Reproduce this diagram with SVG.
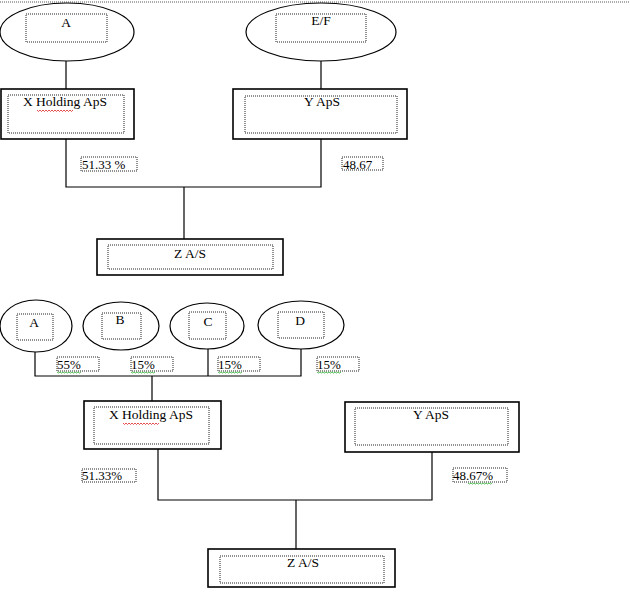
<svg xmlns="http://www.w3.org/2000/svg" width="630" height="600" viewBox="0 0 630 600">
<style>
.bg{fill:#fff}
.ell{fill:#fff;stroke:#000;stroke-width:1.2}
.box{fill:#fff;stroke:#000;stroke-width:1.6}
.inner{fill:none;stroke:#222;stroke-width:1;stroke-dasharray:1 1}
.lbl{fill:#fff;stroke:#222;stroke-width:1;stroke-dasharray:1 1}
.t{font-family:"Liberation Serif","Times New Roman",serif;font-size:13.5px;fill:#000}
.tm{text-anchor:middle}
.p{font-family:"Liberation Serif","Times New Roman",serif;font-size:13px;fill:#000}
.con{fill:none;stroke:#000;stroke-width:1.2}
.spell{fill:none;stroke:#d22;stroke-width:0.8}
.gram{fill:none;stroke:#2a2;stroke-width:0.8}
</style>
<rect class="bg" x="0" y="0" width="630" height="600"/>
<line x1="0" y1="2" x2="630" y2="2" stroke="#555" stroke-width="1" stroke-dasharray="1 1"/>

<g id="connectors">
  <path class="con" d="M66 61 V89 M321 61 V89 M66 139 V187 H321 V139 M184 187 V239"/>
  <path class="con" d="M35 352 V376 H301 V348 M152 376 V401 M158 449 V500 H432 V452 M296 500 V549"/>
  <path class="con" d="M208 348 V376" stroke="#aaa"/>
</g>

<g id="top-A">
  <ellipse class="ell" cx="67" cy="32" rx="67" ry="29"/>
  <rect class="inner" x="26" y="14" width="81" height="28"/>
  <text class="t tm" x="66" y="27">A</text>
</g>
<g id="top-EF">
  <ellipse class="ell" cx="321" cy="32" rx="75" ry="29"/>
  <rect class="inner" x="276" y="14" width="90" height="28"/>
  <text class="t tm" x="321" y="25">E/F</text>
</g>
<g id="top-X">
  <rect class="box" x="1" y="89" width="133" height="50"/>
  <rect class="inner" x="8" y="95" width="116" height="38"/>
  <text class="t tm" x="65" y="106">X Holding ApS</text>
  <path class="spell" d="M37 110 l1.5 1.5 1.5 -1.5 1.5 1.5 1.5 -1.5 1.5 1.5 1.5 -1.5 1.5 1.5 1.5 -1.5 1.5 1.5 1.5 -1.5 1.5 1.5 1.5 -1.5 1.5 1.5 1.5 -1.5 1.5 1.5 1.5 -1.5 1.5 1.5 1.5 -1.5 1.5 1.5 1.5 -1.5 1.5 1.5 1.5 -1.5 1.5 1.5 1.5 -1.5"/>
</g>
<g id="top-Y">
  <rect class="box" x="233" y="89" width="174" height="50"/>
  <rect class="inner" x="245" y="96" width="152" height="37"/>
  <text class="t tm" x="322" y="106">Y ApS</text>
</g>
<g id="top-p1">
  <rect class="lbl" x="81" y="157" width="56" height="14"/>
  <text class="p" x="82" y="169">51.33 %</text>
</g>
<g id="top-p2">
  <rect class="lbl" x="342" y="157" width="41" height="13"/>
  <text class="p" x="343" y="169">48.67</text>
</g>
<g id="top-Z">
  <rect class="box" x="97" y="239" width="186" height="36"/>
  <rect class="inner" x="108" y="245" width="165" height="24"/>
  <text class="t tm" x="190" y="258">Z A/S</text>
</g>

<g id="bot-A">
  <ellipse class="ell" cx="36" cy="326" rx="36" ry="26"/>
  <rect class="inner" x="17" y="314" width="36" height="26"/>
  <text class="t tm" x="34" y="327">A</text>
</g>
<g id="bot-B">
  <ellipse class="ell" cx="121" cy="326" rx="38" ry="24"/>
  <rect class="inner" x="102" y="313" width="39" height="26"/>
  <text class="t tm" x="120" y="324">B</text>
</g>
<g id="bot-C">
  <ellipse class="ell" cx="207" cy="326" rx="37" ry="23"/>
  <rect class="inner" x="189" y="312" width="37" height="27"/>
  <text class="t tm" x="208" y="326">C</text>
</g>
<g id="bot-D">
  <ellipse class="ell" cx="301" cy="325" rx="43" ry="24"/>
  <rect class="inner" x="278" y="312" width="46" height="26"/>
  <text class="t tm" x="300" y="325">D</text>
</g>
<g id="bot-p55">
  <rect class="lbl" x="57" y="357" width="42" height="14"/>
  <text class="p" x="57" y="369">55%</text>
  <path class="gram" d="M57 372 l1.5 1 1.5 -1 1.5 1 1.5 -1 1.5 1 1.5 -1 1.5 1 1.5 -1 1.5 1 1.5 -1 1.5 1 1.5 -1 1.5 1 1.5 -1 1.5 1 1.5 -1"/>
</g>
<g id="bot-p15b">
  <rect class="lbl" x="131" y="357" width="42" height="14"/>
  <text class="p" x="131" y="369">15%</text>
  <path class="gram" d="M131 372 l1.5 1 1.5 -1 1.5 1 1.5 -1 1.5 1 1.5 -1 1.5 1 1.5 -1 1.5 1 1.5 -1 1.5 1 1.5 -1 1.5 1 1.5 -1 1.5 1 1.5 -1"/>
</g>
<g id="bot-p15c">
  <rect class="lbl" x="218" y="357" width="42" height="14"/>
  <text class="p" x="218" y="369">15%</text>
  <path class="gram" d="M218 372 l1.5 1 1.5 -1 1.5 1 1.5 -1 1.5 1 1.5 -1 1.5 1 1.5 -1 1.5 1 1.5 -1 1.5 1 1.5 -1 1.5 1 1.5 -1 1.5 1 1.5 -1"/>
</g>
<g id="bot-p15d">
  <rect class="lbl" x="317" y="357" width="42" height="14"/>
  <text class="p" x="317" y="369">15%</text>
  <path class="gram" d="M317 372 l1.5 1 1.5 -1 1.5 1 1.5 -1 1.5 1 1.5 -1 1.5 1 1.5 -1 1.5 1 1.5 -1 1.5 1 1.5 -1 1.5 1 1.5 -1 1.5 1 1.5 -1"/>
</g>
<g id="bot-X">
  <rect class="box" x="84" y="401" width="137" height="48"/>
  <rect class="inner" x="94" y="407" width="115" height="37"/>
  <text class="t tm" x="151" y="419">X Holding ApS</text>
  <path class="spell" d="M123 423 l1.5 1.5 1.5 -1.5 1.5 1.5 1.5 -1.5 1.5 1.5 1.5 -1.5 1.5 1.5 1.5 -1.5 1.5 1.5 1.5 -1.5 1.5 1.5 1.5 -1.5 1.5 1.5 1.5 -1.5 1.5 1.5 1.5 -1.5 1.5 1.5 1.5 -1.5 1.5 1.5 1.5 -1.5 1.5 1.5 1.5 -1.5 1.5 1.5 1.5 -1.5"/>
</g>
<g id="bot-Y">
  <rect class="box" x="345" y="402" width="174" height="50"/>
  <rect class="inner" x="355" y="408" width="153" height="37"/>
  <text class="t tm" x="431" y="419">Y ApS</text>
</g>
<g id="bot-p1">
  <rect class="lbl" x="82" y="469" width="54" height="13"/>
  <text class="p" x="82" y="480">51.33%</text>
</g>
<g id="bot-p2">
  <rect class="lbl" x="453" y="468" width="54" height="14"/>
  <text class="p" x="453" y="480">48.67%</text>
  <path class="gram" d="M468 483 l1.5 1 1.5 -1 1.5 1 1.5 -1 1.5 1 1.5 -1 1.5 1 1.5 -1 1.5 1 1.5 -1 1.5 1 1.5 -1 1.5 1 1.5 -1 1.5 1 1.5 -1"/>
</g>
<g id="bot-Z">
  <rect class="box" x="208" y="549" width="187" height="38"/>
  <rect class="inner" x="220" y="556" width="164" height="27"/>
  <text class="t tm" x="303" y="567">Z A/S</text>
</g>
</svg>
